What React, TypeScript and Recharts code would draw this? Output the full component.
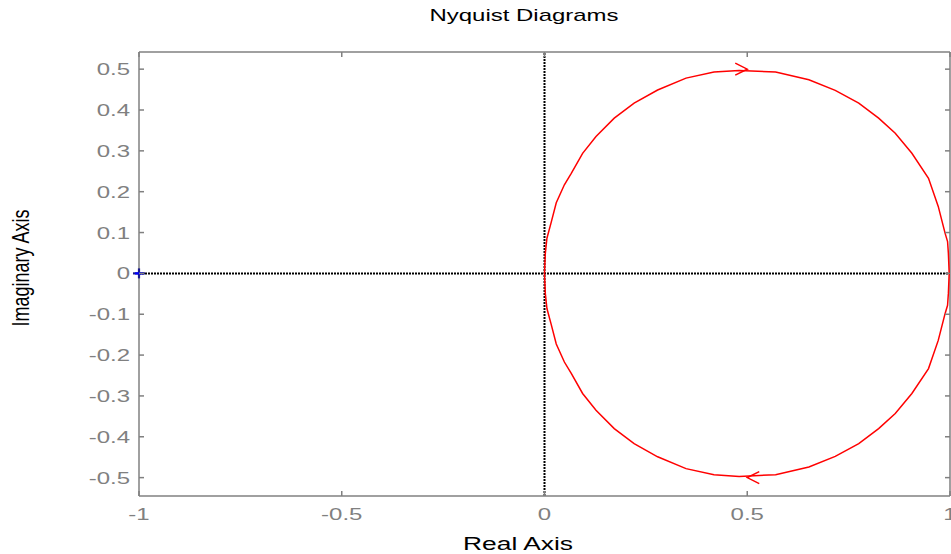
import React from 'react'
import { ScatterChart, Scatter, XAxis, YAxis, ReferenceLine, ReferenceDot } from 'recharts'

// axis setup
const X_TICKS = [-1, -0.5, 0, 0.5, 1]
const Y_TICKS = [-0.5, -0.4, -0.3, -0.2, -0.1, 0, 0.1, 0.2, 0.3, 0.4, 0.5]
const Y_MIN = -0.545
const Y_MAX = 0.542

// Nyquist curve (negative frequencies: upper half)
const UPPER_RE = [0, 0.002, 0.006, 0.016, 0.029, 0.049, 0.066, 0.094, 0.127, 0.172, 0.221, 0.279, 0.349, 0.418, 0.48, 0.57, 0.652, 0.717, 0.775, 0.824, 0.865, 0.906, 0.947, 0.971, 0.988, 0.994, 0.996, 0.998]
const UPPER_IM = [0, 0.049, 0.086, 0.123, 0.173, 0.217, 0.245, 0.294, 0.335, 0.38, 0.417, 0.449, 0.478, 0.493, 0.497, 0.493, 0.474, 0.448, 0.417, 0.38, 0.343, 0.294, 0.233, 0.164, 0.098, 0.078, 0.049, 0]
// positive frequencies: lower half
const LOWER_RE = [0.998, 0.996, 0.994, 0.988, 0.971, 0.947, 0.906, 0.865, 0.824, 0.775, 0.717, 0.652, 0.57, 0.48, 0.418, 0.349, 0.279, 0.221, 0.172, 0.127, 0.094, 0.066, 0.049, 0.029, 0.016, 0.006, 0.002, 0]
const LOWER_IM = [0, -0.049, -0.078, -0.098, -0.164, -0.233, -0.294, -0.343, -0.38, -0.417, -0.448, -0.474, -0.493, -0.497, -0.493, -0.478, -0.449, -0.417, -0.38, -0.335, -0.294, -0.245, -0.217, -0.173, -0.123, -0.086, -0.049, 0]

const ARROW_UP = [{ x: 0.5, y: 0.5 }]
const ARROW_DOWN = [{ x: 0.5, y: -0.5 }]
const CRITICAL = { x: -1, y: 0 }

const upper = UPPER_RE.map((x, i) => ({ x, y: UPPER_IM[i] }))
const lower = LOWER_RE.map((x, i) => ({ x, y: LOWER_IM[i] }))

const W = 951
const H = 554
const PLOT_LEFT = 139
const PLOT_RIGHT = 950
const PLOT_TOP = 52
const PLOT_BOTTOM = 496
const GRAY = '#808080'
const FONT = '"Liberation Sans", Arial, Helvetica, sans-serif'
const STRETCH = 1.5

const fmtTick = (v: number) => String(v)

function XTick(props: any) {
  const { x, payload } = props
  return (
    <g>
      <line x1={x} x2={x} y1={PLOT_BOTTOM} y2={PLOT_BOTTOM - 5} stroke={GRAY} strokeWidth={1.5} />
      <line x1={x} x2={x} y1={PLOT_TOP} y2={PLOT_TOP + 5} stroke={GRAY} strokeWidth={1.5} />
      <text
        transform={`translate(${x},${PLOT_BOTTOM + 24}) scale(${STRETCH},1)`}
        textAnchor="middle"
        fontSize={16}
        fontFamily={FONT}
        fill={GRAY}
      >
        {fmtTick(payload.value)}
      </text>
    </g>
  )
}

function YTick(props: any) {
  const { y, payload } = props
  return (
    <g>
      <line x1={PLOT_LEFT} x2={PLOT_LEFT + 5} y1={y} y2={y} stroke={GRAY} strokeWidth={1.5} />
      <line x1={PLOT_RIGHT} x2={PLOT_RIGHT - 5} y1={y} y2={y} stroke={GRAY} strokeWidth={1.5} />
      <text
        transform={`translate(${PLOT_LEFT - 9},${y + 6}) scale(${STRETCH},1)`}
        textAnchor="end"
        fontSize={16}
        fontFamily={FONT}
        fill={GRAY}
      >
        {fmtTick(payload.value)}
      </text>
    </g>
  )
}

const noDot = () => <g />

const arrowRight = (p: any) => (
  <polyline
    points={`${p.cx - 12},${p.cy - 6} ${p.cx},${p.cy} ${p.cx - 12},${p.cy + 6}`}
    fill="none"
    stroke="#ff0000"
    strokeWidth={1.5}
  />
)

const arrowLeft = (p: any) => (
  <polyline
    points={`${p.cx + 12},${p.cy - 6} ${p.cx},${p.cy} ${p.cx + 12},${p.cy + 6}`}
    fill="none"
    stroke="#ff0000"
    strokeWidth={1.5}
  />
)

const plusMark = (p: any) => (
  <g strokeWidth={2.2}>
    <line x1={p.cx - 6} x2={p.cx + 6} y1={p.cy} y2={p.cy} stroke="#1a1a8c" />
    <line x1={p.cx} x2={p.cx} y1={p.cy - 5} y2={p.cy + 5} stroke="#1a1a8c" />
    <line x1={p.cx - 4} x2={p.cx + 4} y1={p.cy} y2={p.cy} stroke="#0000ff" />
  </g>
)

export default function App() {
  return (
    <div style={{ width: W, height: H, background: 'white' }}>
      <style>{'body{margin:0}'}</style>
      <ScatterChart
        width={W}
        height={H}
        margin={{ top: PLOT_TOP, right: W - PLOT_RIGHT, left: 0, bottom: 0 }}
      >
        <XAxis
          type="number"
          dataKey="x"
          domain={[-1, 1]}
          ticks={X_TICKS}
          allowDataOverflow
          height={H - PLOT_BOTTOM}
          axisLine={{ stroke: GRAY, strokeWidth: 1.5 }}
          tickLine={false}
          tick={<XTick />}
          interval={0}
        />
        <YAxis
          type="number"
          dataKey="y"
          domain={[Y_MIN, Y_MAX]}
          ticks={Y_TICKS}
          allowDataOverflow
          width={PLOT_LEFT}
          axisLine={{ stroke: GRAY, strokeWidth: 1.5 }}
          tickLine={false}
          tick={<YTick />}
          interval={0}
        />
        <ReferenceLine y={Y_MAX} stroke={GRAY} strokeWidth={1.5} />
        <ReferenceLine x={1} stroke={GRAY} strokeWidth={1.5} />
        <ReferenceLine x={0} stroke="#000" strokeWidth={2} strokeDasharray="2 1" />
        <ReferenceLine y={0} stroke="#000" strokeWidth={2} strokeDasharray="2 1" />
        <Scatter data={upper} line={{ stroke: '#ff0000', strokeWidth: 1.5 }} shape={noDot} isAnimationActive={false} />
        <Scatter data={lower} line={{ stroke: '#ff0000', strokeWidth: 1.5 }} shape={noDot} isAnimationActive={false} />
        <Scatter data={ARROW_UP} shape={arrowRight} isAnimationActive={false} />
        <Scatter data={ARROW_DOWN} shape={arrowLeft} isAnimationActive={false} />
        <ReferenceDot x={CRITICAL.x} y={CRITICAL.y} ifOverflow="visible" shape={plusMark} />
        <text x={524} y={21} textAnchor="middle" fontSize={17} fontFamily={FONT} fill="#000" textLength={189} lengthAdjust="spacingAndGlyphs">
          Nyquist Diagrams
        </text>
        <text x={518} y={550} textAnchor="middle" fontSize={17.5} fontFamily={FONT} fill="#000" textLength={110} lengthAdjust="spacingAndGlyphs">
          Real Axis
        </text>
        <text
          transform={`translate(29,268) scale(1.3,1) rotate(-90)`}
          textAnchor="middle"
          fontSize={18}
          fontFamily={FONT}
          fill="#000"
        >
          Imaginary Axis
        </text>
      </ScatterChart>
    </div>
  )
}
